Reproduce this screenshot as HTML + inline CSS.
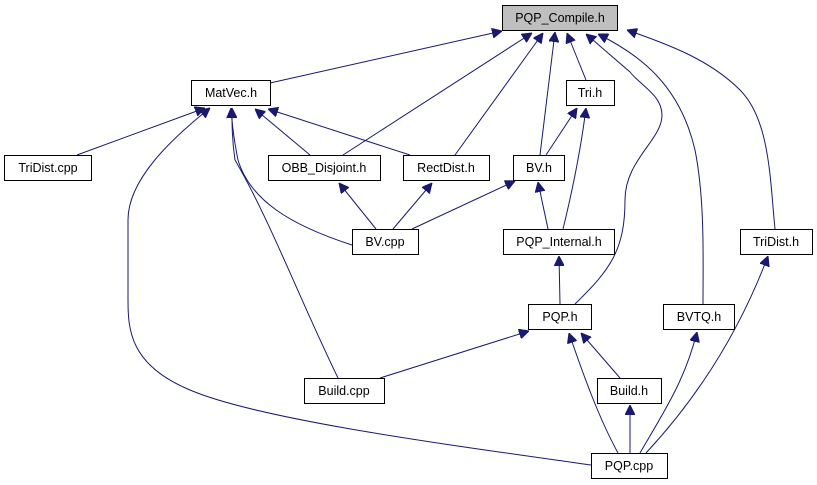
<!DOCTYPE html>
<html><head><meta charset="utf-8"><style>
html,body{margin:0;padding:0;background:#fff;}
svg{display:block;}
text{font-family:"Liberation Sans",sans-serif;font-size:12.5px;text-anchor:middle;fill:#000;}
rect{fill:#fff;stroke:#000;stroke-width:1;}
path{fill:none;stroke:#191970;stroke-width:1;}
</style></head><body>
<svg width="817" height="485" viewBox="0 0 817 485">
<defs><marker id="a" viewBox="0 0 10 10" refX="10" refY="5" markerWidth="10" markerHeight="10" markerUnits="userSpaceOnUse" orient="auto"><path d="M0,0 L10,5 L0,10 z" style="fill:#191970;stroke:#191970"/></marker></defs>
<g marker-end="url(#a)">
<path d="M270,83 L502,31"/>
<path d="M343,155 L532,33"/>
<path d="M455,155 L543,33"/>
<path d="M540,155 L555,32"/>
<path d="M586,80 L567,33"/>
<path d="M575,304 C610,270 625,250 625,200 C625,160 662,140 662,115 C662,95 640,85 630,72 L586,34"/>
<path d="M703,304 C703,260 705,200 695,150 C680,85 640,55 598,34"/>
<path d="M775,229 C770,180 770,120 740,90 C710,60 670,45 627,30"/>
<path d="M77,155 L205,108"/>
<path d="M591,465 C450,445 260,420 190,390 C130,365 128,330 128,300 L128,220 C128,180 170,140 210,108"/>
<path d="M352,245 C290,225 250,200 238,160 C234,140 232,125 231,108"/>
<path d="M338,378 C300,300 270,220 235,160 C232,140 232,125 232,108"/>
<path d="M310,155 L255,109"/>
<path d="M410,155 L268,109"/>
<path d="M376,229 L339,183"/>
<path d="M393,229 L432,183"/>
<path d="M412,229 L515,181"/>
<path d="M546,155 L577,108"/>
<path d="M563,229 C575,180 582,140 586,108"/>
<path d="M548,229 L538,182"/>
<path d="M560,304 L559,256"/>
<path d="M380,378 L529,331"/>
<path d="M620,378 L581,333"/>
<path d="M618,453 C600,420 585,380 569,333"/>
<path d="M630,453 L630,405"/>
<path d="M640,453 C665,410 685,380 697,332"/>
<path d="M646,453 C700,395 740,330 768,256"/>
</g>
<rect x="502.5" y="5.5" width="115" height="25" style="fill:#bfbfbf"/><text x="560" y="22">PQP_Compile.h</text>
<rect x="191.5" y="80.5" width="79" height="25"/><text x="231" y="97">MatVec.h</text>
<rect x="566.5" y="80.5" width="48" height="25"/><text x="590" y="97">Tri.h</text>
<rect x="4.5" y="155.5" width="87" height="25"/><text x="48" y="172">TriDist.cpp</text>
<rect x="268.5" y="155.5" width="112" height="25"/><text x="324" y="172">OBB_Disjoint.h</text>
<rect x="403.5" y="155.5" width="86" height="25"/><text x="446" y="172">RectDist.h</text>
<rect x="513.5" y="155.5" width="51" height="25"/><text x="539" y="172">BV.h</text>
<rect x="352.5" y="229.5" width="66" height="25"/><text x="385" y="246">BV.cpp</text>
<rect x="503.5" y="229.5" width="111" height="25"/><text x="559" y="246">PQP_Internal.h</text>
<rect x="740.5" y="229.5" width="72" height="25"/><text x="776" y="246">TriDist.h</text>
<rect x="528.5" y="304.5" width="63" height="25"/><text x="560" y="321">PQP.h</text>
<rect x="663.5" y="304.5" width="71" height="25"/><text x="699" y="321">BVTQ.h</text>
<rect x="304.5" y="378.5" width="80" height="25"/><text x="344" y="395">Build.cpp</text>
<rect x="597.5" y="378.5" width="64" height="25"/><text x="629" y="395">Build.h</text>
<rect x="591.5" y="453.5" width="76" height="25"/><text x="629" y="470">PQP.cpp</text>
</svg>
</body></html>
